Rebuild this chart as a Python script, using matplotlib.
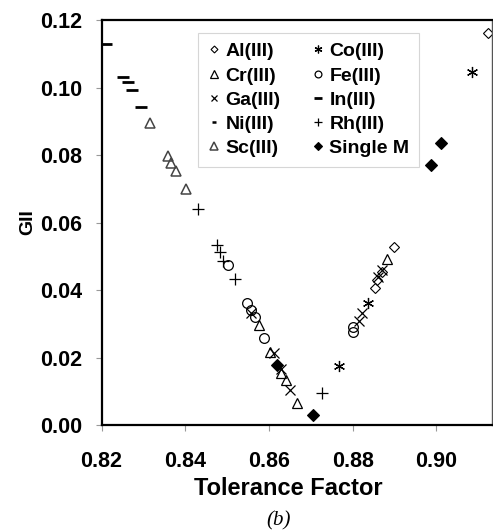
import matplotlib
matplotlib.use("Agg")
import matplotlib.pyplot as plt
from matplotlib.ticker import FormatStrFormatter

plt.rcParams["font.family"] = ["Liberation Sans", "DejaVu Sans"]

# 各系列数据（容忍因子, GII）
al_x = [0.8854, 0.8858, 0.8870, 0.8899, 0.9124]
al_y = [0.0405, 0.0430, 0.0453, 0.0528, 0.1162]
cr_x = [0.8576, 0.8603, 0.8629, 0.8641, 0.8666, 0.8883]
cr_y = [0.0295, 0.0216, 0.0155, 0.0132, 0.0066, 0.0491]
ga_x = [0.8557, 0.8613, 0.8629, 0.8650, 0.8814, 0.8823, 0.8861, 0.8870]
ga_y = [0.0332, 0.0212, 0.0166, 0.0104, 0.0308, 0.0332, 0.0439, 0.0459]
ni_x = []
ni_y = []
sc_x = [0.8316, 0.8359, 0.8367, 0.8379, 0.8401]
sc_y = [0.0896, 0.0797, 0.0776, 0.0753, 0.0700]
co_x = [0.8766, 0.8836, 0.9084]
co_y = [0.0176, 0.0361, 0.1047]
fe_x = [0.8501, 0.8547, 0.8556, 0.8566, 0.8588, 0.8800, 0.8801]
fe_y = [0.0474, 0.0361, 0.0341, 0.0319, 0.0258, 0.0290, 0.0276]
in_x = [0.8211, 0.8251, 0.8262, 0.8272, 0.8294]
in_y = [0.1130, 0.1031, 0.1015, 0.0992, 0.0942]
rh_x = [0.8431, 0.8475, 0.8484, 0.8491, 0.8519, 0.8727]
rh_y = [0.0639, 0.0533, 0.0513, 0.0487, 0.0432, 0.0094]
sm_x = [0.8620, 0.8706, 0.8986, 0.9010]
sm_y = [0.0178, 0.0029, 0.0770, 0.0836]

x_ticks = [0.82, 0.84, 0.86, 0.88, 0.90]
y_ticks = [0.00, 0.02, 0.04, 0.06, 0.08, 0.10, 0.12]

fig = plt.figure(figsize=(4.93, 5.32), dpi=100)
ax = fig.add_axes([0.206, 0.2011, 0.7914, 0.7613])

mk = dict(linestyle="none", color="black", markerfacecolor="none")
ax.plot(al_x, al_y, marker="D", markersize=5, markeredgewidth=0.8, label="Al(III)", **mk)
ax.plot(cr_x, cr_y, marker="^", markersize=7.5, markeredgewidth=0.9, label="Cr(III)", **mk)
ax.plot(ga_x, ga_y, marker="x", markersize=7, markeredgewidth=0.9, label="Ga(III)", **mk)
ax.plot(ni_x, ni_y, marker="_", markersize=5, markeredgewidth=1.8, label="Ni(III)", **mk)
ax.plot(sc_x, sc_y, marker="^", markersize=7.5, markeredgewidth=1.1, label="Sc(III)",
        linestyle="none", color="#444444", markerfacecolor="none")
ax.plot(co_x, co_y, marker=(6, 2, 0), markersize=8, markeredgewidth=0.9, label="Co(III)", **mk)
ax.plot(fe_x, fe_y, marker="o", markersize=7, markeredgewidth=0.9, label="Fe(III)", **mk)
ax.plot(in_x, in_y, marker="_", markersize=8, markeredgewidth=2, label="In(III)", **mk)
ax.plot(rh_x, rh_y, marker="+", markersize=8, markeredgewidth=0.9, label="Rh(III)", **mk)
ax.plot(sm_x, sm_y, marker="D", markersize=6, markeredgewidth=0.8, label="Single M",
        linestyle="none", color="black")

ax.set_xlim(0.82, 0.9132)
ax.set_ylim(0, 0.12)
ax.set_xticks(x_ticks)
ax.set_yticks(y_ticks)
ax.xaxis.set_major_formatter(FormatStrFormatter("%.2f"))
ax.yaxis.set_major_formatter(FormatStrFormatter("%.2f"))
ax.tick_params(direction="out", length=4, width=0.8, color="#999999", labelsize=15.5)
ax.tick_params(axis="x", pad=15)
ax.tick_params(axis="y", pad=10)
for lab in ax.get_xticklabels() + ax.get_yticklabels():
    lab.set_fontweight("bold")

for side in ["left", "bottom", "top"]:
    ax.spines[side].set_linewidth(1.6)
    ax.spines[side].set_color("black")
ax.spines["right"].set_linewidth(1.0)
ax.spines["right"].set_color("#555555")

ax.set_xlabel("Tolerance Factor", fontsize=17, fontweight="bold")
ax.xaxis.set_label_coords(0.478, -0.128)
ax.set_ylabel("GII", fontsize=14, fontweight="bold", va="center")
ax.yaxis.set_label_coords(-0.19, 0.5)

leg = ax.legend(ncol=2, loc="upper left", bbox_to_anchor=(0.248, 0.968),
                borderaxespad=0, prop=dict(size=14, weight="bold"),
                frameon=True, fancybox=False,
                handlelength=0.6, handletextpad=0.3, columnspacing=1.6,
                labelspacing=0.34, borderpad=0.5, markerscale=0.7)
leg.get_frame().set_edgecolor("#cccccc")
leg.get_frame().set_linewidth(0.8)

fig.text(0.565, 0.012, "(b)", fontsize=15, family="Liberation Serif", style="italic",
         ha="center")

fig.savefig("out.png", dpi=100)
